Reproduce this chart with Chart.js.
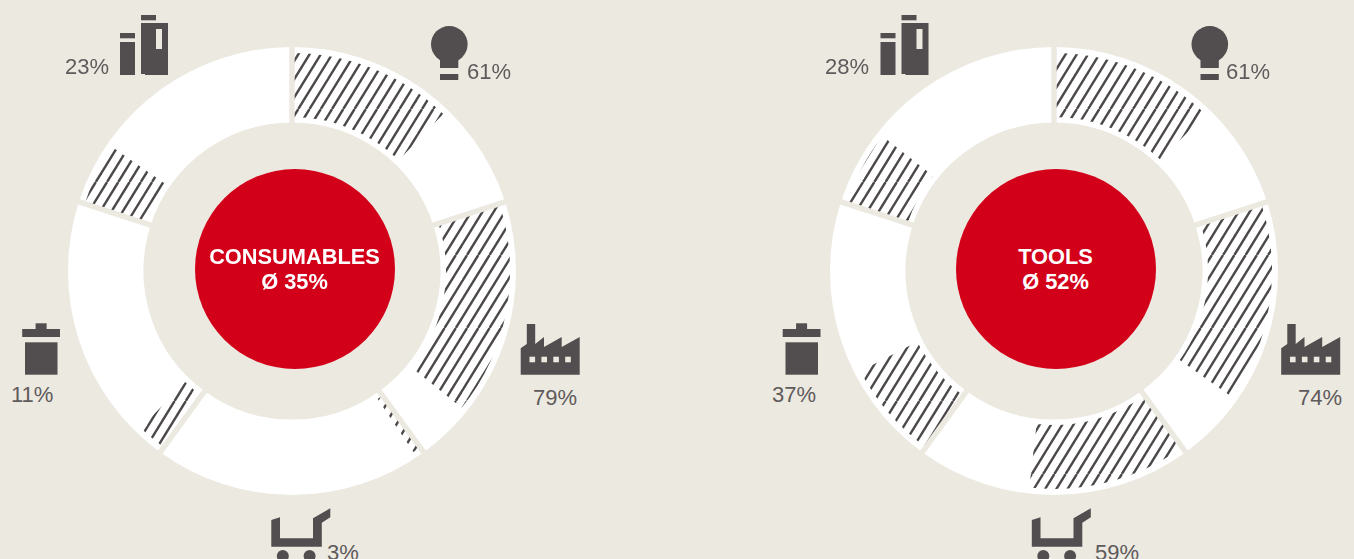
<!DOCTYPE html>
<html>
<head>
<meta charset="utf-8">
<title>Consumables and tools</title>
<script src="https://cdn.jsdelivr.net/npm/chart.js@4"></script>
<style>
  html, body { margin: 0; height: 100%; background: #ece9e1; overflow: hidden; }
  body { position: relative; width: 1354px; height: 559px; font-family: "Liberation Sans", Arial, sans-serif; }
  canvas { position: absolute; }
  .pct { position: absolute; font-size: 22px; line-height: 24px; color: #5f5a5b; white-space: nowrap; }
  .hub {
    position: absolute; width: 199px; height: 200px; padding-right: 1px; border-radius: 50%;
    background: #d3001a; color: #fff; font-weight: bold; font-size: 21.8px; line-height: 25px;
    text-align: center; display: flex; flex-direction: column; justify-content: center;
  }
  #icons { position: absolute; left: 0; top: 0; }
</style>
</head>
<body>
<svg id="icons" width="1354" height="559" fill="#524d4f">
  <defs>
    <g id="iconset">
      <!-- bulb -->
      <circle cx="449.3" cy="44.3" r="18.3"/>
      <rect x="440" y="55" width="18.3" height="13"/>
      <rect x="440" y="74" width="18.3" height="6"/>
      <!-- books -->
      <rect x="120" y="33" width="15" height="5.3"/>
      <rect x="120" y="42" width="15" height="33"/>
      <rect x="141" y="15" width="15" height="5.3"/>
      <path d="M141 23H168V75H145V74H141Z"/>
      <rect x="156" y="29" width="6" height="20" fill="#ece9e1"/>
      <!-- bin -->
      <rect x="35.6" y="323.3" width="11" height="6"/>
      <rect x="22.2" y="329" width="37.8" height="8"/>
      <rect x="25" y="342.3" width="32.5" height="32.4"/>
      <!-- factory -->
      <path d="M520.7 374.7V348.3L526.8 344V324H535.2V344L544 337V347L561.7 337V347L579.7 337V374.7Z"/>
      <g fill="#ece9e1">
        <rect x="529.5" y="356.7" width="5.6" height="5.6"/>
        <rect x="541.4" y="356.7" width="5.6" height="5.6"/>
        <rect x="553.3" y="356.7" width="5.6" height="5.6"/>
        <rect x="565.2" y="356.7" width="5.6" height="5.6"/>
      </g>
      <!-- trolley -->
      <path d="M271.3 520L280 517.3V538.3H313V518.3L330.3 508.3V517.3L321.8 522.7V546.7H271.3Z"/>
      <circle cx="282.8" cy="556" r="6"/>
      <circle cx="309.6" cy="556" r="6"/>
    </g>
  </defs>
  <use href="#iconset"/>
  <use href="#iconset" x="760.5"/>
</svg>

<script>
const categories = ['Lighting', 'Production', 'Retail', 'Waste', 'Storage'];
const consumablesShare = [61, 79, 3, 11, 23];
const toolsShare = [61, 74, 59, 37, 28];
const sliceSize = [100, 100, 100, 100, 100];

const PAPER = '#ece9e1';
const CANVAS_SIZE = 470;
const TILE_W = 45;
const TILE_H = 73;
const PITCH = 11.25;

// tile holds four diagonal strokes so the pitch can stay fractional
function makeHatch(phase) {
  const tile = document.createElement('canvas');
  tile.width = TILE_W;
  tile.height = TILE_H;
  const g = tile.getContext('2d');
  g.strokeStyle = '#4c4849';
  g.lineWidth = 2.4;
  for (let k = -1; k < 10; k++) {
    const c = phase + k * PITCH;
    g.beginPath();
    g.moveTo(c, 0);
    g.lineTo(c - TILE_W, TILE_H);
    g.stroke();
  }
  return g.createPattern(tile, 'repeat');
}

function addCanvas(cx, cy) {
  const el = document.createElement('canvas');
  el.width = el.height = CANVAS_SIZE;
  el.style.left = (cx - CANVAS_SIZE / 2) + 'px';
  el.style.top = (cy - CANVAS_SIZE / 2) + 'px';
  document.body.appendChild(el);
  return el;
}

// cutout as a percentage: the library scales it against the outer radius
const ringOptions = (outer, inner) => ({
  responsive: false,
  animation: false,
  radius: outer,
  cutout: (inner / outer * 100) + '%',
  layout: { padding: 0 },
  plugins: { legend: { display: false }, tooltip: { enabled: false } }
});

// paper-coloured cuts along each slice boundary, taken from the arcs themselves
const sliceGaps = {
  id: 'sliceGaps',
  afterDatasetsDraw(chart) {
    const { ctx } = chart;
    const arcs = chart.getDatasetMeta(0).data;
    ctx.save();
    ctx.strokeStyle = PAPER;
    ctx.lineWidth = 5.4;
    arcs.forEach((arc, i) => {
      if (i % 2) return;
      const a = arc.startAngle;
      ctx.beginPath();
      ctx.moveTo(arc.x + Math.cos(a) * 130, arc.y + Math.sin(a) * 130);
      ctx.lineTo(arc.x + Math.cos(a) * 232, arc.y + Math.sin(a) * 232);
      ctx.stroke();
    });
    ctx.restore();
  }
};

function drawDonut(cx, cy, share, hatchPhase) {
  // white ring, five equal slices
  new Chart(addCanvas(cx, cy), {
    type: 'doughnut',
    data: {
      labels: categories,
      datasets: [{ data: sliceSize, backgroundColor: '#fff', borderWidth: 0 }]
    },
    options: ringOptions(224, 148.5)
  });

  // hatched part of each slice sits on top, a little narrower than the ring
  const left = cx - CANVAS_SIZE / 2;
  const top = cy - CANVAS_SIZE / 2;
  const raw = hatchPhase - left - top * TILE_W / TILE_H;
  const hatch = makeHatch((raw % PITCH + PITCH) % PITCH);
  new Chart(addCanvas(cx, cy), {
    type: 'doughnut',
    data: {
      labels: categories.flatMap(c => [c, c + ' rest']),
      datasets: [{
        data: share.flatMap(v => [v, 100 - v]),
        backgroundColor: share.flatMap(() => [hatch, 'rgba(0,0,0,0)']),
        borderWidth: 0
      }]
    },
    options: ringOptions(218, 154),
    plugins: [sliceGaps]
  });
}

drawDonut(291.5, 271.3, consumablesShare, 5.2);
drawDonut(1053.5, 271.3, toolsShare, 7.5);

// labels: [share array, index, left, baseline]
const labelSpots = [
  [consumablesShare, 0, 467, 79], [consumablesShare, 1, 533, 405], [consumablesShare, 2, 327, 560],
  [consumablesShare, 3, 11, 402], [consumablesShare, 4, 65, 74],
  [toolsShare, 0, 1226, 79], [toolsShare, 1, 1298, 405], [toolsShare, 2, 1095, 560],
  [toolsShare, 3, 772, 402], [toolsShare, 4, 825, 74]
];
labelSpots.forEach(([share, i, x, base]) => {
  const d = document.createElement('div');
  d.className = 'pct';
  d.textContent = share[i] + '%';
  d.style.left = x + 'px';
  d.style.top = (base - 19) + 'px';
  document.body.appendChild(d);
});

function addHub(x, y, title, share) {
  const d = document.createElement('div');
  d.className = 'hub';
  d.style.left = (x - 100) + 'px';
  d.style.top = (y - 100) + 'px';
  const avg = Math.round(share.reduce((a, b) => a + b, 0) / share.length);
  d.innerHTML = '<div>' + title + '</div><div>Ø ' + avg + '%</div>';
  document.body.appendChild(d);
}
addHub(295, 269, 'CONSUMABLES', consumablesShare);
addHub(1056, 269, 'TOOLS', toolsShare);
</script>
</body>
</html>
